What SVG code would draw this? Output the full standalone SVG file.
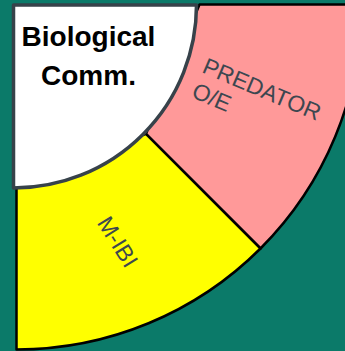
<svg xmlns="http://www.w3.org/2000/svg" width="345" height="351" viewBox="0 0 345 351">
<style>
.seg{stroke:#000;stroke-width:2.5;stroke-linejoin:round}
.lbl{font-family:"Liberation Sans",Arial,sans-serif;font-size:23px;fill:#3d4750}
.title{font-family:"Liberation Sans",Arial,sans-serif;font-size:28px;font-weight:bold;fill:#000;text-anchor:middle}
</style>
<rect width="345" height="351" fill="#0b7a69"/>
<g id="predator">
<path class="seg" fill="#ff9999" d="M199.5,4.5 H361.5 A345,345 0 0 1 260.5,248.5 L145.9,133.9 Z"/>
<text class="lbl" transform="translate(201,72) rotate(23)"><tspan x="0" y="0">PREDATOR</tspan><tspan x="0" y="27">O/E</tspan></text>
</g>
<g id="mibi">
<path class="seg" fill="#ffff00" d="M260.5,248.5 A345,345 0 0 1 16.5,349.5 V187.5 L145.9,133.9 Z"/>
<text class="lbl" text-anchor="middle" transform="translate(111,246) rotate(58)">M-IBI</text>
</g>
<g id="bio">
<path fill="#ffffff" stroke="#37424a" stroke-width="3.5" stroke-linejoin="round" d="M13.5,5 H196.5 A183,183 0 0 1 13.5,188 Z"/>
<text class="title" x="88.5" y="46">Biological</text>
<text class="title" x="88.5" y="85">Comm.</text>
</g>
<g id="connectors"></g>
</svg>
